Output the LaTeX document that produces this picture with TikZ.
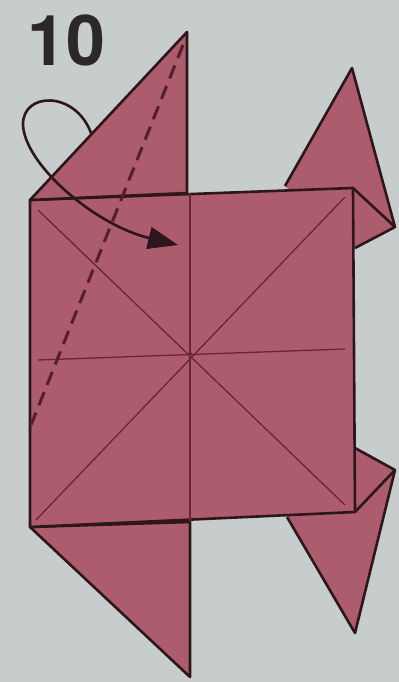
\documentclass[tikz,border=0pt]{standalone}
\usepackage{fontspec}
\setmainfont{TeX Gyre Heros}
\usetikzlibrary{arrows.meta}
\definecolor{paper}{RGB}{172,92,108}
\definecolor{backdrop}{RGB}{199,204,204}
\definecolor{edge}{RGB}{45,22,28}
\definecolor{crease}{RGB}{105,38,52}
\definecolor{numeral}{RGB}{42,40,42}
\begin{document}
\begin{tikzpicture}[x=0.5pt,y=-0.5pt,
  flap/.style={fill=paper,draw=edge,line width=1.3pt,line join=round},
  creaseline/.style={draw=crease,line width=0.65pt},
  valley/.style={draw=crease!80!black,line width=1.5pt,dash pattern=on 7pt off 4pt},
  turnarrow/.style={draw=edge,line width=1.3pt,-{Triangle[length=15pt,width=11pt]}}]
% page
\fill[backdrop] (0,0) rectangle (399,682);
\useasboundingbox (0,0) rectangle (399,682);
% step number
\node[anchor=north west,inner sep=0pt,font=\bfseries\fontsize{35}{35}\selectfont,text=numeral] (num) at (27,14) {10};
% flaps lying behind the square on the right
\draw[flap] (285,186) -- (352,68) -- (395,227) -- (355,248);
\draw[flap] (355,448) -- (395,470) -- (355,633) -- (287,517);
% flap below the square
\draw[flap] (30,527) -- (190,522) -- (190,677) -- cycle;
% main square
\draw[flap] (30,200) -- (353,188) -- (355,512) -- (30,527) -- cycle;
% flap standing up from the top edge
\draw[flap] (30,200) -- (187,32) -- (187,193) -- cycle;
% creases of the square
\draw[creaseline] (190,193) -- (190,521);
\draw[creaseline] (38,360) -- (345,349);
\draw[creaseline] (38,210) -- (345,505);
\draw[creaseline] (345,197) -- (36,520);
\fill[crease] (190,354) circle (2);
% creases on the side flaps
\draw[flap,fill=none] (353,188) -- (395,227);
\draw[flap,fill=none] (355,512) -- (395,470);
% valley fold line
\draw[valley] (183,45) -- (31,425);
% turn-over arrow
\coordinate (aS) at (91,133);
\coordinate (aE) at (178,245);
\draw[turnarrow] (aS) .. controls (75,90) and (22,92) .. (23,125) .. controls (25,165) and (95,225) .. (aE);
\end{tikzpicture}
\end{document}
